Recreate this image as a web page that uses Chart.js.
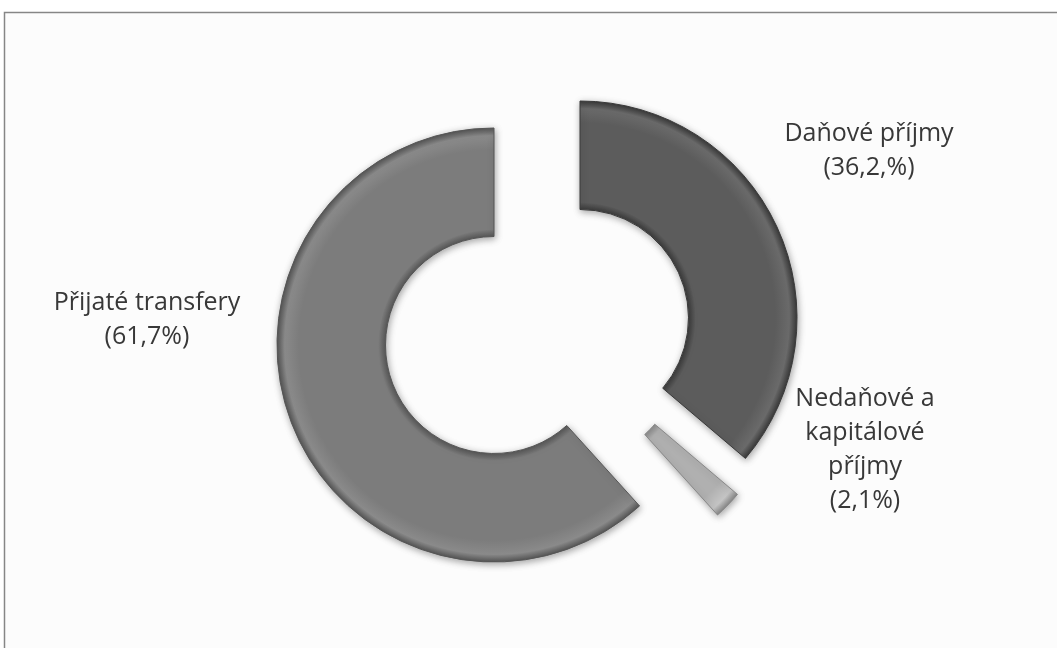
<!DOCTYPE html>
<html>
<head>
<meta charset="utf-8">
<script src="https://cdn.jsdelivr.net/npm/chart.js@4.4.1/dist/chart.umd.min.js"></script>
<style>
    html, body { margin: 0; padding: 0; background: #fff; }
</style>
</head>
<body>
<canvas id="myChart" width="1057" height="648"></canvas>
<script>
const labels = ['Daňové příjmy', 'Nedaňové a kapitálové příjmy', 'Přijaté transfery'];
const shares = [36.2, 2.1, 61.7];
const shareTexts = ['(36,2,%)', '(2,1%)', '(61,7%)'];
const labelLines = [
    ['Daňové příjmy'],
    ['Nedaňové a', 'kapitálové', 'příjmy'],
    ['Přijaté transfery'],
];

// looks
const baseColors = ['#5c5c5c', '#b0b0b0', '#7c7c7c'];
const rimColors = ['#3a3a3a', '#888888', '#565656'];
const lightColors = ['#6a6a6a', '#c4c4c4', '#8a8a8a'];
const explodeShift = [[33, -12], [25, 24], [-53, 15]];   // pulled-out slices
const labelPos = [[869, 134], [865, 399], [147, 303]];   // centre of first text line
const lineGap = 34;

function ringGradient(c) {
    const a = c.chart.chartArea;
    const i = c.dataIndex;
    if (!a) return baseColors[i];
    const cx = (a.left + a.right) / 2;
    const cy = (a.top + a.bottom) / 2;
    const g = c.chart.ctx.createRadialGradient(cx, cy, 108, cx, cy, 217);
    g.addColorStop(0, rimColors[i]);
    g.addColorStop(0.07, baseColors[i]);
    g.addColorStop(0.8, baseColors[i]);
    g.addColorStop(0.93, lightColors[i]);
    g.addColorStop(1, rimColors[i]);
    return g;
}

const explodePlugin = {
    id: 'explode',
    beforeDatasetDraw(chart, args) {
        const ctx = chart.ctx;
        args.meta.data.forEach((arc, i) => {
            ctx.save();
            ctx.translate(explodeShift[i][0], explodeShift[i][1]);
            ctx.shadowColor = 'rgba(0,0,0,0.35)';
            ctx.shadowBlur = 7;
            ctx.shadowOffsetX = 1;
            ctx.shadowOffsetY = 2;
            arc.draw(ctx);
            ctx.restore();
        });
        return false;
    }
};

const framePlugin = {
    id: 'frame',
    beforeDraw(chart) {
        const ctx = chart.ctx;
        ctx.save();
        ctx.fillStyle = '#fcfcfc';
        ctx.fillRect(5, 13, 1052, 635);
        ctx.strokeStyle = '#868686';
        ctx.lineWidth = 1.5;
        ctx.beginPath();
        ctx.moveTo(4.5, 660);
        ctx.lineTo(4.5, 12.5);
        ctx.lineTo(1060, 12.5);
        ctx.stroke();
        ctx.restore();
    }
};

const labelPlugin = {
    id: 'sliceLabels',
    afterDraw(chart) {
        const ctx = chart.ctx;
        ctx.save();
        ctx.font = '25px "Open Sans"';
        ctx.fillStyle = '#383838';
        ctx.textAlign = 'center';
        ctx.textBaseline = 'middle';
        labelLines.forEach((lines, i) => {
            const [x, y] = labelPos[i];
            lines.concat([shareTexts[i]]).forEach((t, k) => {
                ctx.fillText(t, x, y + k * lineGap);
            });
        });
        ctx.restore();
    }
};

const data = {
    labels: labels,
    datasets: [{
        data: shares,
        backgroundColor: ringGradient,
        borderColor: rimColors,
        borderWidth: 1,
    }]
};

const config = {
    type: 'doughnut',
    data: data,
    options: {
        responsive: false,
        animation: false,
        cutout: '50%',
        radius: 217,
        rotation: 0,
        layout: {
            padding: { left: 37, top: 12, right: 0, bottom: 0 }
        },
        plugins: {
            legend: { display: false },
            tooltip: { enabled: false }
        }
    },
    plugins: [framePlugin, explodePlugin, labelPlugin]
};

const myChart = new Chart(document.getElementById('myChart').getContext('2d'), config);
</script>
</body>
</html>
